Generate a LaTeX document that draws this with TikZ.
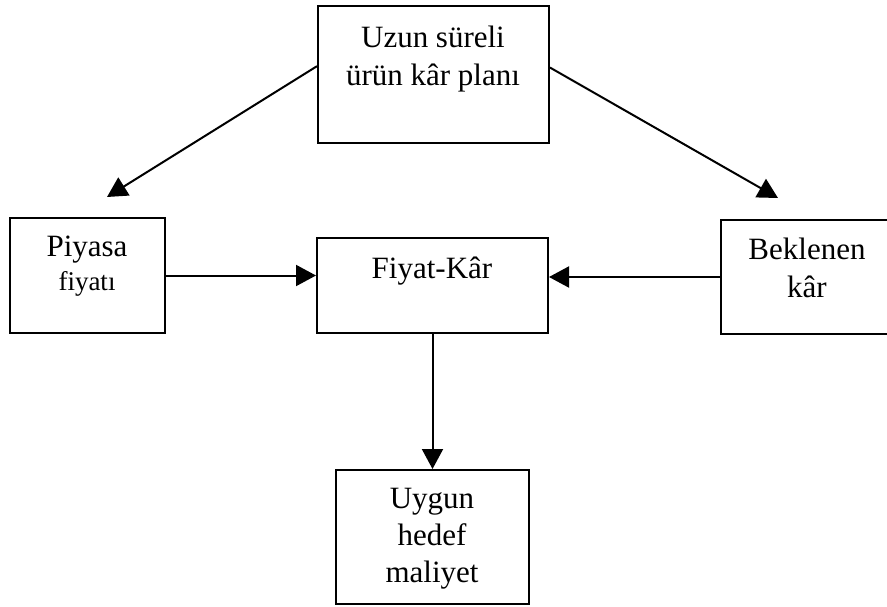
\documentclass[tikz,border=0pt]{standalone}
\usepackage{fontspec}
\setmainfont{Liberation Serif}
\usetikzlibrary{arrows.meta,calc}
\begin{document}
\begin{tikzpicture}[x=1pt,y=-1pt,
  box/.style={draw, line width=2pt, inner sep=0pt, anchor=north west},
  lbl/.style={align=center, inner sep=0pt, anchor=base,
    font=\fontsize{31}{37.5}\selectfont},
  conn/.style={line width=2pt, -{Triangle[length=20pt,width=21pt]}}]
\useasboundingbox (0,0) rectangle (887,606);
\begin{scope}
\clip (0,0) rectangle (887,606);
% boxes
\node[box, minimum width=231pt, minimum height=137pt] (plan) at (317,5) {};
\node[box, minimum width=155pt, minimum height=115pt] (piyasa) at (9,217) {};
\node[box, minimum width=231pt, minimum height=95pt]  (fk) at (316,237) {};
\node[box, minimum width=180pt, minimum height=114pt] (bek) at (720,219) {};
\node[box, minimum width=193pt, minimum height=134pt] (uygun) at (335,469) {};
\end{scope}
% labels (anchored at the baseline of their last line)
\node[lbl] (planT) at (433,85) {Uzun süreli\\ürün kâr planı};
\node[lbl] (piyasaT) at (87,290) {Piyasa\\[-4pt]{\fontsize{27}{30}\selectfont fiyatı}};
\node[lbl] (fkT) at (432,278) {Fiyat-Kâr};
\node[lbl] (bekT) at (807,297) {Beklenen\\kâr};
\node[lbl] (uygunT) at (432,582) {Uygun\\[-0.5pt]hedef\\[-0.5pt]maliyet};
% connectors
\coordinate (planL) at ($(plan.north west)!0.44!(plan.south west)$);
\coordinate (planR) at ($(plan.north east)!0.45!(plan.south east)$);
\coordinate (tipL) at (107,197);
\coordinate (tipR) at (778,198);
\draw[conn] (planL) -- (tipL);
\draw[conn] (planR) -- (tipR);
\draw[conn] (piyasa.east) -- (piyasa.east -| fk.west);
\draw[conn] (bek.west) -- (bek.west -| fk.east);
\draw[conn] (fk.south) -- (uygun.north);
\end{tikzpicture}
\end{document}
